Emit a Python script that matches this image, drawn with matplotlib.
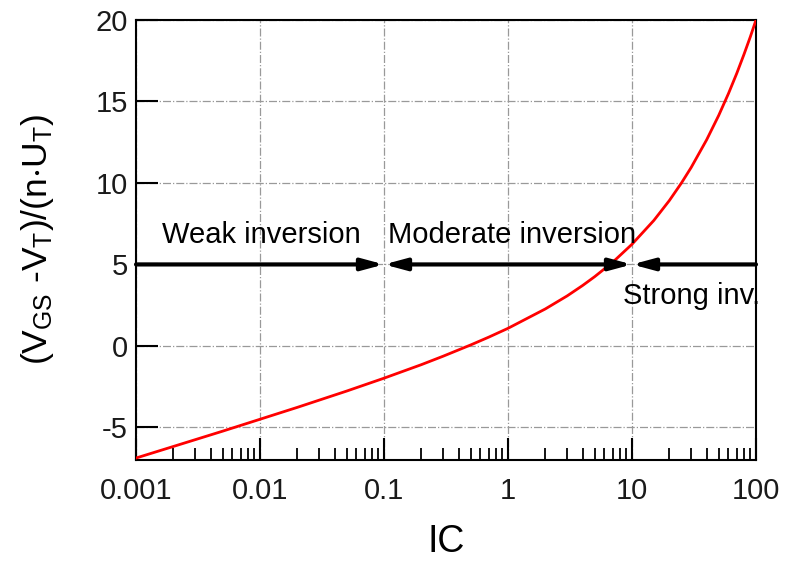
import numpy as np
import matplotlib.pyplot as plt
from matplotlib.ticker import LogLocator, FixedLocator, FixedFormatter, NullFormatter

plt.rcParams['font.family'] = ['Liberation Sans', 'DejaVu Sans']
plt.rcParams['mathtext.default'] = 'regular'
plt.rcParams['axes.unicode_minus'] = False

# inversion coefficient vs normalised overdrive
ic = [0.001, 0.002, 0.005, 0.01, 0.02, 0.05, 0.1, 0.2, 0.3, 0.5, 0.7,
      1, 2, 3, 4, 5, 7, 10, 15, 20, 25, 30, 40, 50, 60, 70, 80, 90, 100]
vov = [-6.88, -6.17, -5.23, -4.50, -3.77, -2.77, -1.98, -1.15, -0.63, 0.06, 0.54,
       1.08, 2.27, 3.07, 3.71, 4.25, 5.14, 6.24, 7.70, 8.92, 9.99, 10.95, 12.65,
       14.14, 15.49, 16.73, 17.89, 18.97, 20.0]

# region boundaries (IC) and labels
bounds = [0.001, 0.1, 10, 100]
regions = ["Weak inversion", "Moderate inversion", "Strong inv."]
y_arrow = 5

xticks = [0.001, 0.01, 0.1, 1, 10, 100]
xlabels = ["0.001", "0.01", "0.1", "1", "10", "100"]
yticks = [-5, 0, 5, 10, 15, 20]

fig = plt.figure(figsize=(7.88, 5.61), dpi=100)
ax = fig.add_axes([136/788, 1 - 460/561, 620/788, 440/561])

ax.set_xscale('log')
ax.set_xlim(0.001, 100)
ax.set_ylim(-7, 20)

ax.plot(ic, vov, color='red', lw=2, zorder=3)

# region arrows
styles = ['-|>', '<|-|>', '<|-']
for (x0, x1), st in zip(zip(bounds[:-1], bounds[1:]), styles):
    ax.annotate('', xy=(x1, y_arrow), xytext=(x0, y_arrow),
                arrowprops=dict(arrowstyle=st + ',head_length=1.3,head_width=0.35',
                                color='black', lw=3, shrinkA=0, shrinkB=0),
                annotation_clip=False, zorder=4)

ax.text(0.00162, 6.3, regions[0], fontsize=21, ha='left', va='baseline')
ax.text(0.108, 6.3, regions[1], fontsize=21, ha='left', va='baseline')
ax.text(8.45, 2.6, regions[2], fontsize=21, ha='left', va='baseline')

ax.xaxis.set_major_locator(FixedLocator(xticks))
ax.xaxis.set_major_formatter(FixedFormatter(xlabels))
ax.xaxis.set_minor_locator(LogLocator(base=10, subs=np.arange(2, 10)))
ax.xaxis.set_minor_formatter(NullFormatter())
ax.set_yticks(yticks)

ax.tick_params(axis='both', which='major', direction='in', length=16, width=1.5,
               labelsize=21, labelcolor='#1a1a1a')
ax.tick_params(axis='x', which='major', pad=12)
ax.tick_params(axis='y', which='major', pad=6)
ax.tick_params(axis='x', which='minor', direction='in', length=9, width=1.3)

ax.grid(True, which='major', color='#999999', linestyle='-.', lw=0.9)
for s in ax.spines.values():
    s.set_linewidth(1.5)

ax.set_xlabel('IC', fontsize=27, labelpad=14)
ax.set_ylabel(r'$(V_{GS}$ -$V_T)/(n{\cdot}U_T)$', fontsize=25.5, labelpad=28)

fig.savefig('out.png', dpi=100)
